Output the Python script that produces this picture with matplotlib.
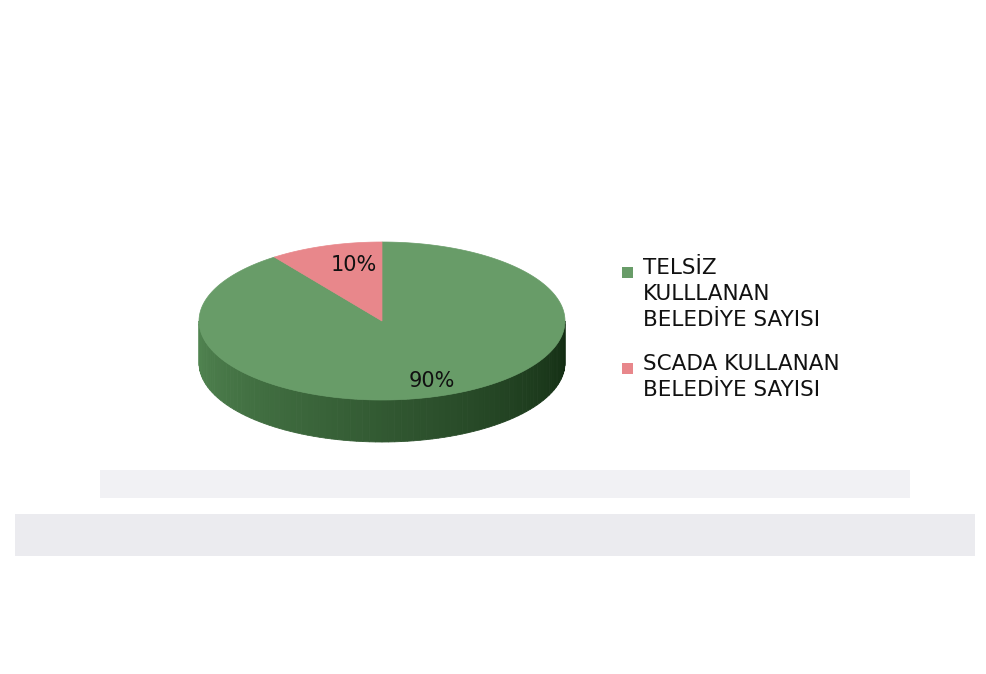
import numpy as np
import matplotlib.pyplot as plt
from matplotlib.patches import Polygon, Rectangle

plt.rcParams['font.family'] = ['Liberation Sans Narrow', 'DejaVu Sans']

labels = ["TELSİZ\nKULLLANAN\nBELEDİYE SAYISI", "SCADA KULLANAN\nBELEDİYE SAYISI"]
values = [90, 10]
pct_text = ["90%", "10%"]
top_colors = ["#689c68", "#e8878b"]

fig = plt.figure(figsize=(9.87, 6.74), dpi=100)
fig.patch.set_facecolor("white")
ax = fig.add_axes([0, 0, 1, 1])
ax.set_xlim(0, 987)
ax.set_ylim(674, 0)
ax.axis("off")

# faint scanned background bands
ax.add_patch(Rectangle((100, 470), 810, 28, color="#f1f1f4", lw=0))
ax.add_patch(Rectangle((15, 514), 960, 42, color="#ebebef", lw=0))

# pseudo-3D pie geometry (pixels)
cx, cy, rx, ry, depth = 382, 321, 183, 79, 42


def pt(phi_deg, dy=0):
    p = np.radians(phi_deg)
    return cx + rx * np.sin(p), cy - ry * np.cos(p) + dy


# side wall (front half), shaded from left to right
n = 90
phis = np.linspace(270, 90, n + 1)
c_left = np.array([0x52, 0x86, 0x52]) / 255
c_right = np.array([0x12, 0x2c, 0x12]) / 255
for i in range(n):
    a, b = phis[i], phis[i + 1]
    t = i / (n - 1)
    col = c_left * (1 - t) + c_right * t
    quad = [pt(a), pt(b), pt(b, depth), pt(a, depth)]
    ax.add_patch(Polygon(quad, closed=True, fc=col, ec=col, lw=0.6))

# top slices (clockwise from 12 o'clock)
total = sum(values)
start = 0
for v, col, txt in zip(values, top_colors, pct_text):
    span = 360 * v / total
    arc = np.linspace(start, start + span, 200)
    verts = [(cx, cy)] + [pt(a) for a in arc]
    ax.add_patch(Polygon(verts, closed=True, fc=col, ec=col, lw=0.5))
    start += span

ax.text(432, 381, pct_text[0], fontsize=15, ha="center", va="center", color="#111111")
ax.text(354, 265, pct_text[1], fontsize=15, ha="center", va="center", color="#111111")

# legend
leg_y = [272, 368]
for lab, col, y in zip(labels, top_colors, leg_y):
    ax.add_patch(Rectangle((622, y - 5), 11, 11, fc=col, ec="none"))
    ax.text(643, y - 14, lab, fontsize=15.5, ha="left", va="top",
            linespacing=1.36, color="#111111")

fig.savefig("out.png", dpi=100)
